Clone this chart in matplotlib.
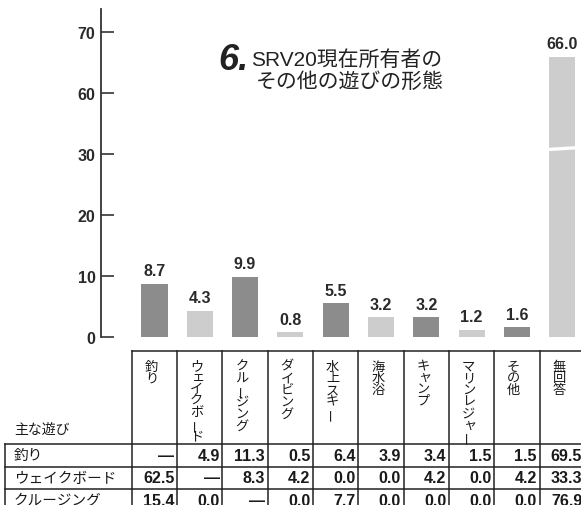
import numpy as np
import matplotlib
matplotlib.use("Agg")
import matplotlib.pyplot as plt

plt.rcParams['font.family'] = ['Liberation Sans', 'Noto Sans CJK JP', 'DejaVu Sans']

# data
categories = ["釣り", "ウェイクボード", "クルージング", "ダイビング", "水上スキー",
              "海水浴", "キャンプ", "マリンレジャー", "その他", "無回答"]
values = [8.7, 4.3, 9.9, 0.8, 5.5, 3.2, 3.2, 1.2, 1.6, 66.0]
yticks = [0, 10, 20, 30, 60, 70]

row_labels = ["釣り", "ウェイクボード", "クルージング"]
row_values = [
    [None, 4.9, 11.3, 0.5, 6.4, 3.9, 3.4, 1.5, 1.5, 69.5],
    [62.5, None, 8.3, 4.2, 0.0, 0.0, 4.2, 0.0, 4.2, 33.3],
    [15.4, 0.0, None, 0.0, 7.7, 0.0, 0.0, 0.0, 0.0, 76.9],
]

title_num = "6."
title_lines = ["SRV20現在所有者の", "その他の遊びの形態"]
table_corner = "主な遊び"

dark, light = '#8c8c8c', '#cdcdcd'
colors = [dark if i % 2 == 0 else light for i in range(len(categories))]

W, H = 581, 506
fig = plt.figure(figsize=(W / 100, H / 100), dpi=100)


def fwd(v):
    v = np.asarray(v, dtype=float)
    return np.where(v <= 30, v, np.where(v >= 60, v - 20, 30 + (v - 30) / 3))


def inv(p):
    p = np.asarray(p, dtype=float)
    return np.where(p <= 30, p, np.where(p >= 40, p + 20, 30 + (p - 30) * 3))


# index -> pixel: 154.5 + 45.3 * i
x0, step = 154.5, 45.3


def px2idx(px):
    return (px - x0) / step


# table axes (whole figure, pixel rows)
tab = fig.add_axes([0, 0, 1, 1])
tab.set_xlim(px2idx(0), px2idx(W))
tab.set_ylim(H, 0)
tab.axis('off')

n = len(categories)
top_y, head_y, row_h = 352, 445, 22.5
left_x = px2idx(5)
lc = '#222222'
tab.plot([-0.5, n], [top_y, top_y], color=lc, lw=1.1)
for i in range(n + 1):
    tab.plot([i - 0.5, i - 0.5], [top_y, H + 10], color=lc, lw=1.1)
tab.plot([left_x, left_x], [head_y, H + 10], color=lc, lw=1.1)
for r in range(len(row_labels)):
    y = head_y + r * row_h
    tab.plot([left_x, n], [y, y], color=lc, lw=1.1)

# vertical header text (tategaki)
small = "ェィャュョッ"
for i, name in enumerate(categories):
    y = 367.5
    for ch in name:
        if ch in small:
            tab.text(i - 0.02, y - 1, ch, ha='center', va='center',
                     fontsize=9.5, color='#1a1a1a')
            y += 10.5
        else:
            rot = 90 if ch == "ー" else 0
            tab.text(i - 0.07, y, ch, ha='center', va='center',
                     fontsize=9.5, rotation=rot, color='#1a1a1a')
            y += 11.8

tab.text(px2idx(14), 430, table_corner, ha='left', va='center', fontsize=10, color='#1a1a1a')

for r, (lab, vals) in enumerate(zip(row_labels, row_values)):
    yc = head_y + r * row_h + row_h / 2
    tab.text(px2idx(14), yc, lab, ha='left', va='center', fontsize=10.5, color='#1a1a1a')
    for i, v in enumerate(vals):
        s = "—" if v is None else f"{v:.1f}"
        tab.text(i + 0.44, yc, s, ha='right', va='center', fontsize=11.5,
                 fontweight='bold', color='#1a1a1a')

# bar axes
ax_bottom = 1 - 338 / H
ax_top = 1 - 10 / H
ax = fig.add_axes([101 / W, ax_bottom, 1 - 101 / W, ax_top - ax_bottom])
ax.patch.set_alpha(0)
ax.set_yscale('function', functions=(fwd, inv))
xs = np.arange(n)
ax.bar(xs, values, width=0.574, color=colors)
ax.set_xlim(px2idx(101), px2idx(W))
ax.set_ylim(0, 73.8)
ax.set_yticks(yticks)
ax.set_yticklabels([str(t) for t in yticks], fontsize=11.5, fontweight='bold', color='#2a2a2a')
ax.set_xticks([])
ax.tick_params(axis='y', direction='in', length=9, width=1.2, color='#333333', pad=4)
for s in ['top', 'right', 'bottom']:
    ax.spines[s].set_visible(False)
ax.spines['left'].set_linewidth(1.3)
ax.spines['left'].set_color('#333333')

for x, v in zip(xs, values):
    ax.annotate(f"{v:.1f}", (x, v), xytext=(0, 4), textcoords='offset points',
                ha='center', va='bottom', fontsize=11.5, fontweight='bold', color='#2a2a2a')

# break mark on the tall bar
big = int(np.argmax(values))
ax.plot([big - 0.36, big + 0.36], [32.2, 33.2], color='white', lw=2.4, solid_capstyle='butt')

# title
fig.text(218 / W, 1 - 70 / H, title_num, fontsize=26, fontweight='bold', fontstyle='italic',
         ha='left', va='baseline', color='#222222')
fig.text(251 / W, 1 - 60 / H, title_lines[0], fontsize=15, ha='left', va='center', color='#222222')
fig.text(256 / W, 1 - 82 / H, title_lines[1], fontsize=15, ha='left', va='center', color='#222222')

fig.savefig("out.png", dpi=100)
